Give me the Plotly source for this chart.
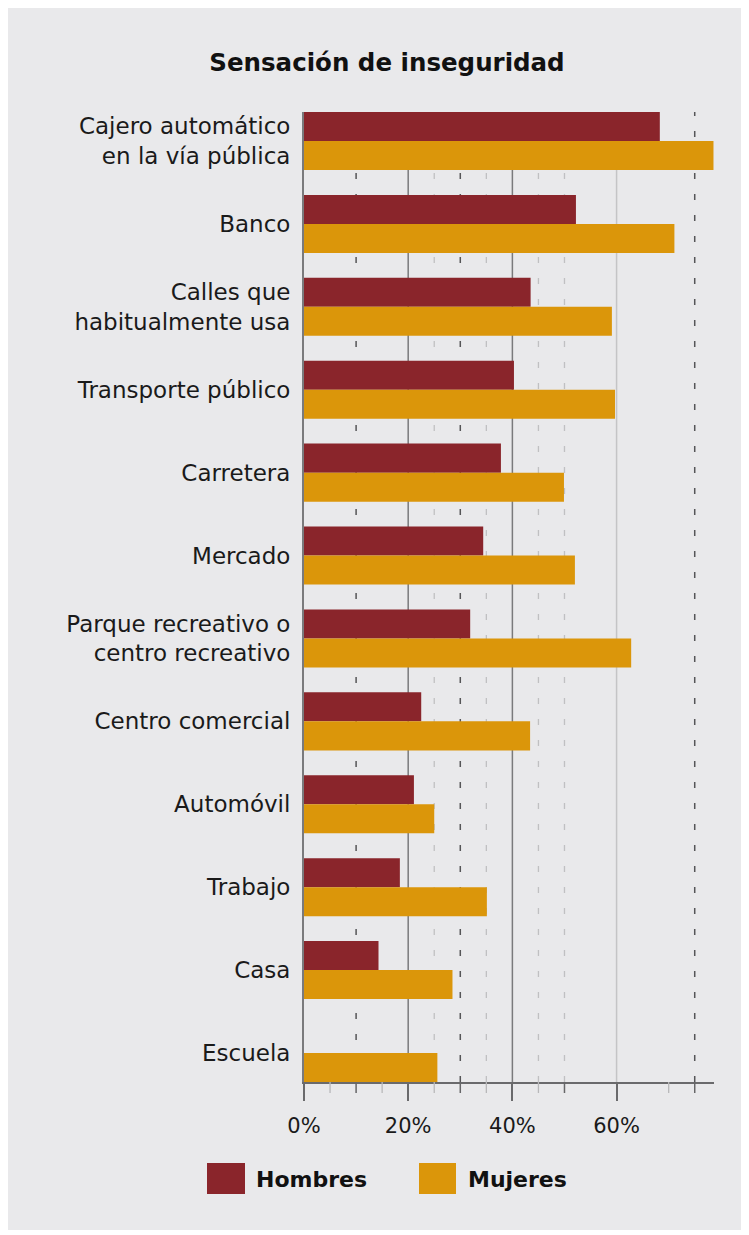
import plotly.graph_objects as go

# ---- data ----
categories = [
    "Cajero automático<br>en la vía pública",
    "Banco",
    "Calles que<br>habitualmente usa",
    "Transporte público",
    "Carretera",
    "Mercado",
    "Parque recreativo o<br>centro recreativo",
    "Centro comercial",
    "Automóvil",
    "Trabajo",
    "Casa",
    "Escuela",
]
hombres = [68.3, 52.2, 43.5, 40.3, 37.8, 34.4, 31.9, 22.5, 21.1, 18.4, 14.3, 0]
mujeres = [78.6, 71.1, 59.1, 59.7, 49.9, 52.0, 62.8, 43.4, 25.0, 35.1, 28.5, 25.6]
series_names = ["Hombres", "Mujeres"]
tick_values = [0, 20, 40, 60]
tick_labels = ["0%", "20%", "40%", "60%"]
grid_dark_dashed = [10, 30, 75]
grid_light_dashed = [25, 35, 45, 50]
grid_dark_solid = [20, 40]
grid_light_solid = [60]
minor_dark = [10, 30, 50, 75]
minor_light = [5, 15, 25, 35, 45, 70]
title_text = "Sensación de inseguridad"

# ---- style ----
C_H = "#8a252b"
C_M = "#db960a"
BG = "#e9e9eb"
FONT = "DejaVu Sans"
W, H = 749, 1235
OFF = 8  # page offset of the figure in the screenshot
# plot area in screenshot pixels: x 304..714, y 112..1082
L = 304 - OFF
T = 112 - OFF
R = W - (714 - OFF)
B = H - (1082 - OFF)
PW, PH = W - L - R, H - T - B


def px(x):
    return (x - OFF - L) / PW


def py(y):
    return (H - B - (y - OFF)) / PH


fig = go.Figure()
fig.add_trace(go.Bar(y=categories, x=hombres, name=series_names[0], orientation="h",
                     marker=dict(color=C_H, line=dict(width=0))))
fig.add_trace(go.Bar(y=categories, x=mujeres, name=series_names[1], orientation="h",
                     marker=dict(color=C_M, line=dict(width=0))))

shapes = []
# panel background
shapes.append(dict(type="rect", xref="paper", yref="paper", x0=px(8), x1=px(745),
                   y0=py(1230), y1=py(8), fillcolor=BG, line=dict(width=0), layer="below"))
for v in grid_light_solid:
    shapes.append(dict(type="line", xref="x", yref="paper", x0=v, x1=v, y0=0, y1=1,
                       line=dict(color="#c4c4c6", width=1.5), layer="below"))
for v in grid_dark_solid:
    shapes.append(dict(type="line", xref="x", yref="paper", x0=v, x1=v, y0=0, y1=1,
                       line=dict(color="#7a7a7c", width=1.5), layer="below"))
for v in grid_light_dashed:
    shapes.append(dict(type="line", xref="x", yref="paper", x0=v, x1=v, y0=0, y1=1,
                       line=dict(color="#c0c0c2", width=1.3, dash="6px,15px"), layer="below"))
for v in grid_dark_dashed:
    shapes.append(dict(type="line", xref="x", yref="paper", x0=v, x1=v, y0=0, y1=1,
                       line=dict(color="#555557", width=1.5, dash="6px,15px"), layer="below"))
for v in minor_dark:
    shapes.append(dict(type="line", xref="x", yref="paper", x0=v, x1=v, y0=0, y1=-11 / PH,
                       line=dict(color="#666668", width=1.5)))
for v in minor_light:
    shapes.append(dict(type="line", xref="x", yref="paper", x0=v, x1=v, y0=0, y1=-11 / PH,
                       line=dict(color="#b8b8ba", width=1.3)))

# legend (manual, large swatches)
legend_items = [(series_names[0], C_H, 207, 245, 254), (series_names[1], C_M, 419, 456, 466)]
annotations = []
for name, col, x0, x1, tx in legend_items:
    shapes.append(dict(type="rect", xref="paper", yref="paper", x0=px(x0), x1=px(x1),
                       y0=py(1194), y1=py(1163), fillcolor=col, line=dict(width=0)))
    annotations.append(dict(text="<b>" + name + "</b>", xref="paper", yref="paper",
                            x=px(tx), y=py(1179), xanchor="left", yanchor="middle",
                            showarrow=False, font=dict(family=FONT, size=22, color="#111")))

fig.update_layout(
    width=W, height=H,
    margin=dict(l=L, r=R, t=T, b=B, pad=0),
    paper_bgcolor="white",
    plot_bgcolor="rgba(0,0,0,0)",
    barmode="group",
    bargap=0.3,
    bargroupgap=0,
    showlegend=False,
    title=dict(text="<b>" + title_text + "</b>", x=(387 - OFF) / W, xanchor="center",
               y=1 - (62 - OFF) / H, yanchor="middle", xref="container", yref="container",
               font=dict(family=FONT, size=24.5, color="#111")),
    font=dict(family=FONT, color="#1a1a1a"),
    xaxis=dict(range=[0, 78.7], tickvals=tick_values, ticktext=tick_labels,
               showgrid=False, zeroline=False, showline=True, linecolor="#6a6a6c",
               linewidth=1.5, ticks="outside", ticklen=17, tickwidth=1.5,
               tickcolor="#6a6a6c", ticklabelstandoff=7,
               tickfont=dict(size=21, color="#1a1a1a")),
    yaxis=dict(range=[len(categories) - 1 + 0.35, -0.35], showgrid=False, zeroline=False,
               showline=True, linecolor="#7a7a7c", linewidth=2, ticks="",
               ticklabelstandoff=7, tickfont=dict(size=23, color="#1a1a1a")),
    shapes=shapes,
    annotations=annotations,
)

fig.write_html("out.html")
